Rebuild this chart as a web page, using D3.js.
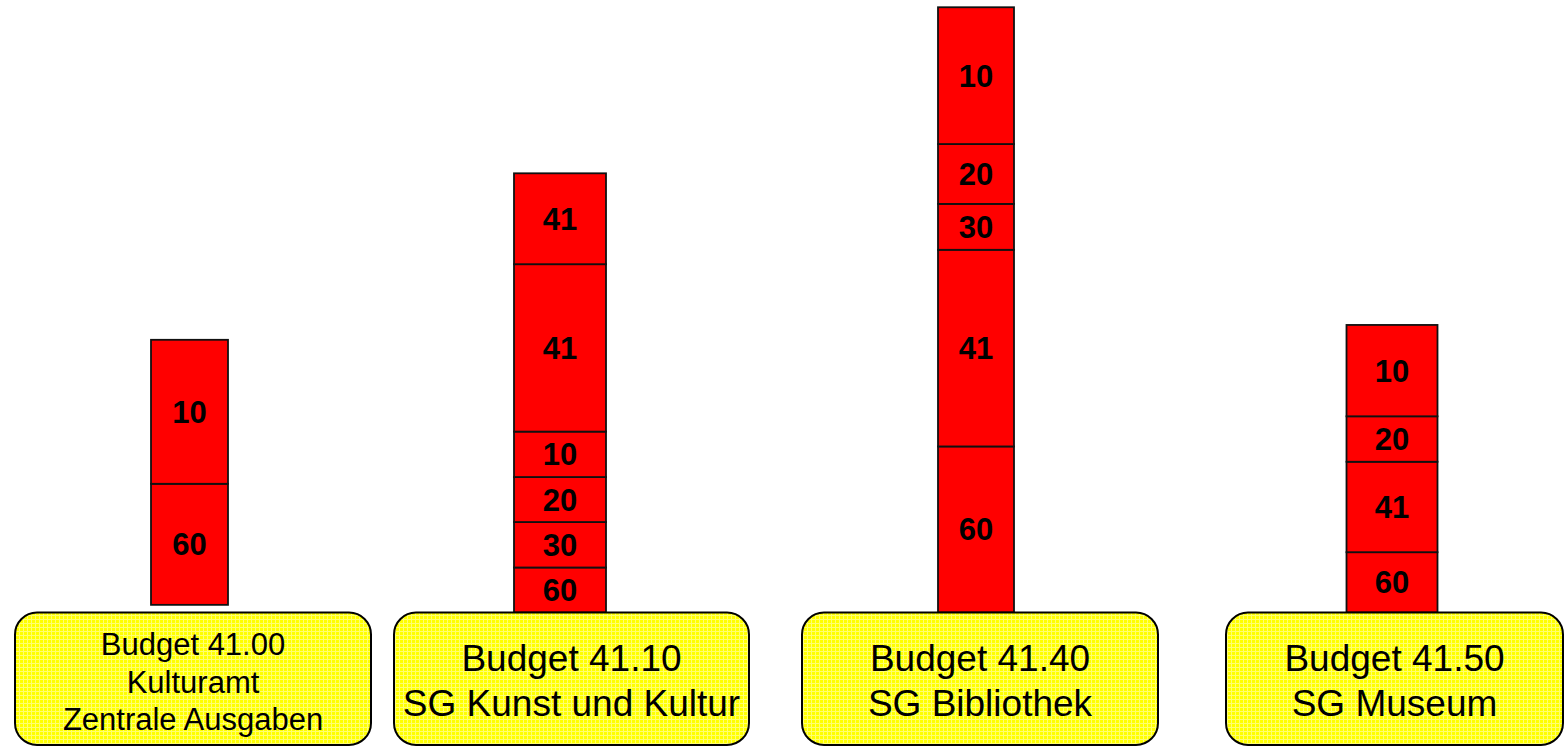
<html>
<head>
  <script src="https://d3js.org/d3.v7.min.js"></script>
  <style>
    body { margin: 0; background: #fff; }
    text { font-family: "Liberation Sans", Arial, sans-serif; }
  </style>
</head>
<body>
  <svg id="chart" width="1564" height="746"></svg>
  <script>

    // budgets and the two-line / three-line captions under each bar
    const budgets = ["41.00", "41.10", "41.40", "41.50"];
    const captions = [
      ["Budget 41.00", "Kulturamt", "Zentrale Ausgaben"],
      ["Budget 41.10", "SG Kunst und Kultur"],
      ["Budget 41.40", "SG Bibliothek"],
      ["Budget 41.50", "SG Museum"]
    ];

    // stacked segments, listed bottom to top
    const segCodes = [
      [60, 10],
      [60, 30, 20, 10, 41, 41],
      [60, 41, 30, 20, 10],
      [60, 41, 20, 10]
    ];
    const segValues = [
      [2.69, 3.2],
      [1.0, 1.01, 1.0, 1.01, 3.72, 2.02],
      [3.69, 4.37, 1.02, 1.33, 3.04],
      [1.34, 2.01, 1.01, 2.03]
    ];
    const stackStart = [0.17, 0, 0, 0];

    const svg = d3.select("#chart");

    const y = d3.scaleLinear().domain([0, 13.5]).range([612.5, 5]);
    const xCenter = d3.scaleOrdinal().domain(budgets).range([189.5, 560, 976, 1392]);
    const barWidth = d3.scaleOrdinal().domain(budgets).range([77, 92, 76, 91]);
    const boxLeft = d3.scaleOrdinal().domain(budgets).range([15, 394, 802, 1226]);
    const boxRight = d3.scaleOrdinal().domain(budgets).range([371, 749, 1158, 1563]);
    const captionSize = d3.scaleOrdinal().domain(budgets).range([31, 37, 37, 37]);

    // yellow fill with a faint light grid, like the original
    const defs = svg.append("defs");
    const pat = defs.append("pattern")
      .attr("id", "yellowGrid")
      .attr("width", 4).attr("height", 4)
      .attr("patternUnits", "userSpaceOnUse");
    pat.append("rect").attr("width", 4).attr("height", 4).attr("fill", "#ffff00");
    pat.append("rect").attr("x", 3).attr("width", 1).attr("height", 4).attr("fill", "#ffff70");
    pat.append("rect").attr("y", 3).attr("width", 4).attr("height", 1).attr("fill", "#ffff70");

    // flatten segments
    const segments = [];
    budgets.forEach((b, i) => {
      let acc = stackStart[i];
      segCodes[i].forEach((code, j) => {
        segments.push({ budget: b, code: code, y0: acc, y1: acc + segValues[i][j] });
        acc += segValues[i][j];
      });
    });

    const bars = svg.append("g");

    bars.selectAll("rect").data(segments)
      .join("rect")
      .attr("x", d => xCenter(d.budget) - barWidth(d.budget) / 2)
      .attr("y", d => y(d.y1))
      .attr("width", d => barWidth(d.budget))
      .attr("height", d => y(d.y0) - y(d.y1))
      .attr("fill", "#ff0000")
      .attr("stroke", "#111")
      .attr("stroke-width", 1.8);

    bars.selectAll("text").data(segments)
      .join("text")
      .attr("x", d => xCenter(d.budget))
      .attr("y", d => (y(d.y0) + y(d.y1)) / 2 + 11)
      .attr("text-anchor", "middle")
      .attr("font-size", 31)
      .attr("font-weight", "bold")
      .attr("fill", "#000")
      .text(d => d.code);

    // caption boxes
    const boxes = svg.append("g");

    boxes.selectAll("rect").data(budgets)
      .join("rect")
      .attr("x", d => boxLeft(d))
      .attr("y", 612.5)
      .attr("width", d => boxRight(d) - boxLeft(d))
      .attr("height", 132.5)
      .attr("rx", 22)
      .attr("fill", "url(#yellowGrid)")
      .attr("stroke", "#000")
      .attr("stroke-width", 2);

    budgets.forEach((b, i) => {
      const lines = captions[i];
      const size = captionSize(b);
      const firstBase = lines.length === 3 ? 655 : 671;
      const step = lines.length === 3 ? 37.5 : 45;
      boxes.append("text")
        .attr("text-anchor", "middle")
        .attr("font-size", size)
        .attr("fill", "#000")
        .selectAll("tspan").data(lines)
        .join("tspan")
        .attr("x", (boxLeft(b) + boxRight(b)) / 2)
        .attr("y", (d, k) => firstBase + k * step)
        .text(d => d);
    });

  </script>
</body>
</html>
